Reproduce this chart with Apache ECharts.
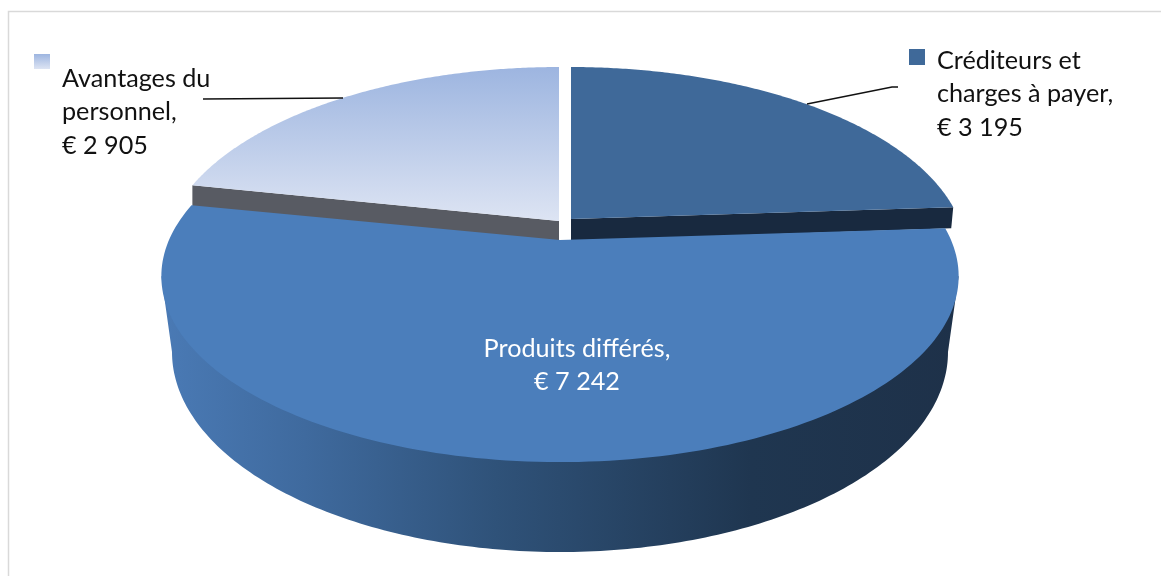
<!DOCTYPE html>
<html lang="fr">
<head>
<meta charset="utf-8">
<title>Passifs</title>
<style>html,body{margin:0;padding:0;background:#fff}#chart{width:1161px;height:576px}</style>
<script src="https://cdn.jsdelivr.net/npm/echarts@6/dist/echarts.min.js"></script>
</head>
<body>
<div id="chart"></div>
<script>
// Chart data, clockwise from twelve o'clock
const categories = ['Créditeurs et\ncharges à payer,', 'Produits différés,', 'Avantages du\npersonnel,'];
const values = [3195, 7242, 2905];

// Perspective: each wedge is a circle sector projected onto the screen
const PERSPECTIVE = 0.195;
const sliceLayout = [
  { ax: 571, ay: 219, a: 388, b: 181.6, order: 2,
    top: '#3f6999', cut: '#18293f', cutDrop: [[0, 22], [-2, 21]],
    swatch: [909, 49, 16, 16], text: [937, 44], color: '#111',
    leader: [[807, 104], [892, 87], [898, 87]] },
  { ax: 560, ay: 240, a: 391, b: 178.8, order: 3,
    top: '#4b7ebb', color: '#fff', text: [577, 332], centered: true },
  { ax: 559, ay: 221, a: 389, b: 184, order: 1,
    top: ['#9db5e0', '#dde4f3'], cut: '#585b63', cutDrop: [[0, 22], [0, 22]],
    swatch: [34, 54, 16, 15], text: [62, 62], color: '#111',
    leader: [[203, 99], [343, 98]] }
];

// Lower rim of the cylinder
const rim = { cx: 560, cy: 352, rx: 388, ry: 200 };
const wallStops = [
  [0, '#4a7ab5'], [0.18, '#3f6a9e'], [0.42, '#2f5279'],
  [0.74, '#1f3650'], [1, '#1e3149']
];

const total = values.reduce((s, v) => s + v, 0);
const vGrad = (stops) => new echarts.graphic.LinearGradient(0, 0, 0, 1,
  stops.map((c, i) => ({ offset: i / (stops.length - 1), color: c })));

function project(l, angle) {
  const w = 1 + PERSPECTIVE * Math.cos(angle);
  return [l.ax + l.a * Math.sin(angle) / w, l.ay - l.b * Math.cos(angle) / w];
}

function formatEuro(v) {
  return '€ ' + String(v).replace(/\B(?=(\d{3})+$)/g, ' ');
}

function renderSlice(params, api) {
  const i = params.dataIndex;
  const l = sliceLayout[i];
  const value = api.value(0);
  let before = 0;
  for (let k = 0; k < i; k++) before += values[k];
  const start = before / total * Math.PI * 2;
  const end = (before + value) / total * Math.PI * 2;
  const rimPoints = [];
  for (let s = 0; s <= 160; s++) rimPoints.push(project(l, start + (end - start) * s / 160));
  const apex = [l.ax, l.ay];
  const topFill = Array.isArray(l.top) ? vGrad(l.top) : l.top;
  const children = [];

  if (l.cut) {
    // Visible cut face of a pulled-out back wedge
    const outer = i === 0 ? rimPoints[160] : rimPoints[0];
    children.push({
      type: 'polygon', z2: l.order * 10,
      shape: { points: [apex, outer,
        [outer[0] + l.cutDrop[1][0], outer[1] + l.cutDrop[1][1]],
        [apex[0] + l.cutDrop[0][0], apex[1] + l.cutDrop[0][1]]] },
      style: { fill: l.cut }
    });
  } else {
    // Curved outer wall between the widest points of the top and the lower rim
    const wall = [];
    for (let s = 0; s <= 180; s++) {
      const t = Math.PI * s / 180;
      wall.push([rim.cx + rim.rx * Math.cos(t), rim.cy + rim.ry * Math.sin(t)]);
    }
    const w = 1 / Math.sqrt(1 - PERSPECTIVE * PERSPECTIVE);
    const yWide = l.ay + l.b * PERSPECTIVE / (1 - PERSPECTIVE * PERSPECTIVE);
    wall.push([l.ax - l.a * w, yWide], [l.ax + l.a * w, yWide]);
    children.push({
      type: 'polygon', z2: l.order * 10,
      shape: { points: wall },
      style: { fill: new echarts.graphic.LinearGradient(0, 0, 1, 0,
        wallStops.map(([offset, color]) => ({ offset, color }))) }
    });
  }

  children.push({
    type: 'polygon', z2: l.order * 10 + 1,
    shape: { points: [apex].concat(rimPoints) },
    style: { fill: topFill }
  });

  if (l.swatch) {
    children.push({
      type: 'rect', z2: 50,
      shape: { x: l.swatch[0], y: l.swatch[1], width: l.swatch[2], height: l.swatch[3] },
      style: { fill: topFill }
    });
  }
  if (l.leader) {
    children.push({
      type: 'polyline', z2: 50,
      shape: { points: l.leader },
      style: { fill: 'none', stroke: '#111', lineWidth: 1.4 }
    });
  }
  children.push({
    type: 'text', z2: 60,
    x: l.text[0], y: l.text[1],
    style: {
      text: categories[i] + '\n' + formatEuro(value),
      fill: l.color,
      font: '25.2px Lato, "Open Sans", sans-serif',
      lineHeight: 33.5,
      align: l.centered ? 'center' : 'left',
      verticalAlign: 'top'
    }
  });
  return { type: 'group', children };
}

const chart = echarts.init(document.getElementById('chart'), null, { renderer: 'canvas' });
chart.setOption({
  animation: false,
  backgroundColor: '#ffffff',
  graphic: [{
    type: 'polyline', silent: true,
    shape: { points: [[8.5, 576], [8.5, 11.5], [1161, 11.5]] },
    style: { fill: 'none', stroke: '#d9d9d9', lineWidth: 1.5 }
  }],
  series: [{
    type: 'custom',
    coordinateSystem: 'none',
    silent: true,
    renderItem: renderSlice,
    data: values.map((v) => [v])
  }]
});
</script>
</body>
</html>
